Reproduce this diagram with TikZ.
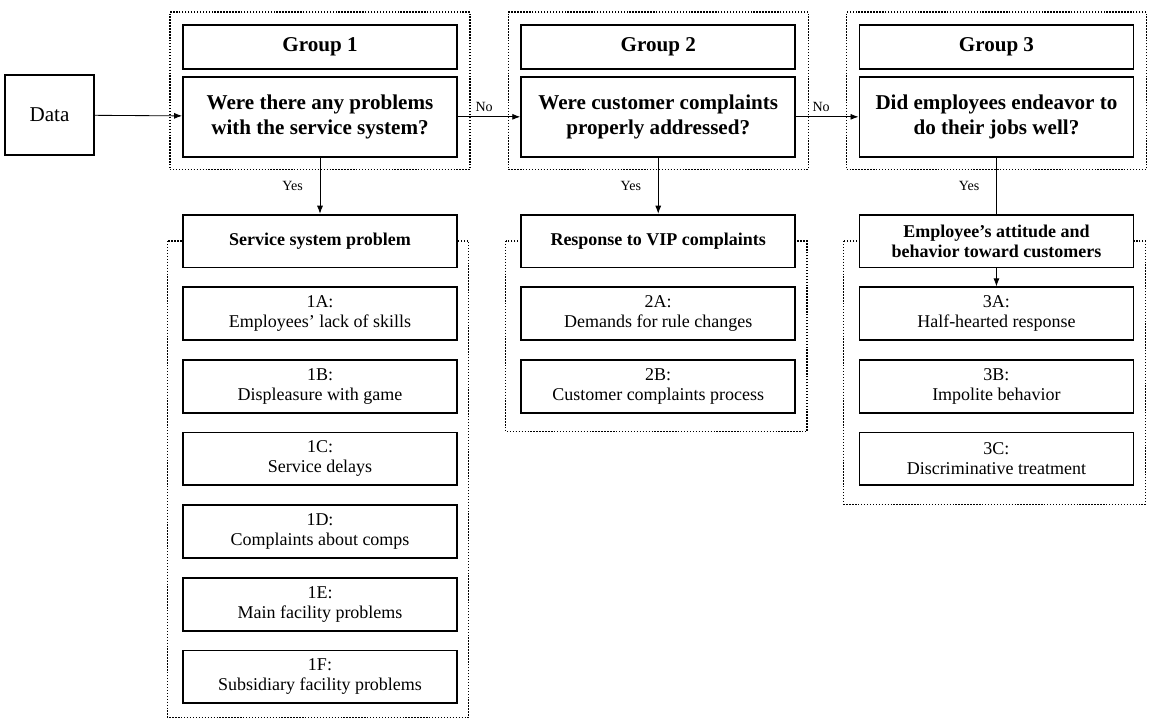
\documentclass[tikz,border=0pt]{standalone}
\usepackage{fontspec}
\setmainfont{Liberation Serif}
\usetikzlibrary{arrows.meta,positioning,fit,calc,backgrounds}
\tikzset{
 qbox/.style={draw,line width=1.3pt,align=center,minimum width=6.85cm,
             minimum height=2cm,font=\fontsize{15}{18}\selectfont\bfseries},
 gbox/.style={qbox,minimum height=1.1cm},
 hbox/.style={draw,line width=1.3pt,fill=white,align=center,minimum width=6.85cm,
             minimum height=1.32cm,font=\fontsize{12.8}{14.2}\selectfont\bfseries},
 itembox/.style={hbox,font=\fontsize{12.8}{14.2}\selectfont},
 groupframe/.style={draw,line width=0.9pt,dash pattern=on 1pt off 1.1pt},
 arrow/.style={-{Latex[length=2mm]},line width=0.6pt},
 lbl/.style={font=\fontsize{10}{12}\selectfont}
}
\begin{document}
\begin{tikzpicture}[node distance=0.45cm]
\useasboundingbox (0,0) rectangle (29,-18.05);
\node[qbox,minimum width=2.225cm,font=\fontsize{15}{18}\selectfont] (data) at (1.2375,-2.875) {Data};

% question rows
\node[gbox] (g1) at (8,-1.175) {Group 1};
\node[qbox,below=0.15cm of g1] (q1) {Were there any problems\\with the service system?};
\node[gbox,right=1.56cm of g1] (g2) {Group 2};
\node[qbox,below=0.15cm of g2] (q2) {Were customer complaints\\properly addressed?};
\node[gbox,right=1.56cm of g2] (g3) {Group 3};
\node[qbox,below=0.15cm of g3] (q3) {Did employees endeavor to\\do their jobs well?};

% group 1 causes
\node[hbox,below=1.4cm of q1] (s1) {Service system problem};
\node[itembox,below=of s1] (i1a) {1A:\\Employees' lack of skills};
\node[itembox,below=of i1a] (i1b) {1B:\\Displeasure with game};
\node[itembox,below=of i1b] (i1c) {1C:\\Service delays};
\node[itembox,below=of i1c] (i1d) {1D:\\Complaints about comps};
\node[itembox,below=of i1d] (i1e) {1E:\\Main facility problems};
\node[itembox,below=of i1e] (i1f) {1F:\\Subsidiary facility problems};

% group 2 causes
\node[hbox,below=1.4cm of q2] (s2) {Response to VIP complaints};
\node[itembox,below=of s2] (i2a) {2A:\\Demands for rule changes};
\node[itembox,below=of i2a] (i2b) {2B:\\Customer complaints process};

% group 3 causes
\node[hbox,below=1.4cm of q3] (s3) {Employee's attitude and\\behavior toward customers};
\node[itembox,below=of s3] (i3a) {3A:\\Half-hearted response};
\node[itembox,below=of i3a] (i3b) {3B:\\Impolite behavior};
\node[itembox,below=of i3b] (i3c) {3C:\\Discriminative treatment};

% dotted frames
\begin{scope}[on background layer]
\node[groupframe,inner sep=0.3cm,fit=(g1)(q1)] (f1) {};
\node[groupframe,inner sep=0.3cm,fit=(g2)(q2)] (f2) {};
\node[groupframe,inner sep=0.3cm,fit=(g3)(q3)] (f3) {};
\draw[groupframe] ($(s1.west)+(-0.37,0)$) rectangle ($(i1f.south east)+(0.27,-0.33)$);
\draw[groupframe] ($(s2.west)+(-0.37,0)$) rectangle ($(i2b.south east)+(0.27,-0.45)$);
\draw[groupframe] ($(s3.west)+(-0.37,0)$) rectangle ($(i3c.south east)+(0.27,-0.45)$);
\end{scope}

\draw[arrow] (data)--(q1);
\draw[arrow] (q1)--node[lbl,above,pos=0.42]{No}(q2);
\draw[arrow] (q2)--node[lbl,above,pos=0.4]{No}(q3);
\draw[arrow] (q1)--node[lbl,left=0.3cm]{Yes}(s1);
\draw[arrow] (q2)--node[lbl,left=0.3cm]{Yes}(s2);
\draw[line width=0.6pt] (q3)--node[lbl,left=0.3cm]{Yes}(s3);
\draw[arrow] (s3)--(i3a);
\end{tikzpicture}
\end{document}
